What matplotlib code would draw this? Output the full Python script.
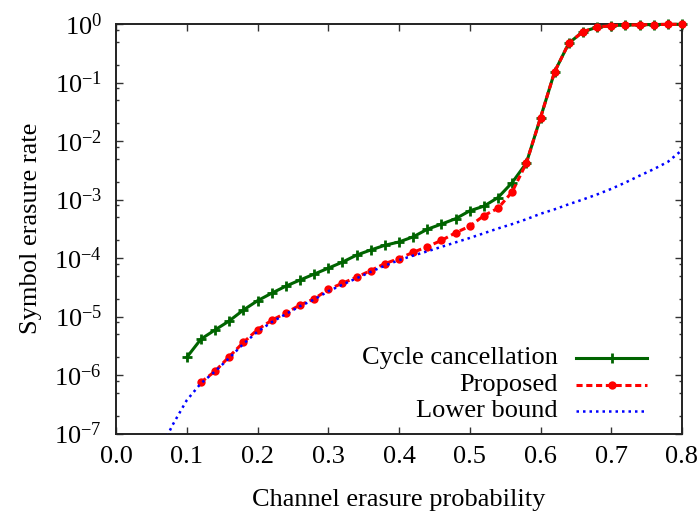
import numpy as np
import matplotlib
matplotlib.use("Agg")
import matplotlib.pyplot as plt
from matplotlib.ticker import LogLocator, FixedLocator, NullFormatter

plt.rcParams['font.family'] = ['Liberation Serif', 'DejaVu Serif']
plt.rcParams['mathtext.fontset'] = 'custom'
plt.rcParams['mathtext.rm'] = 'Liberation Serif'
plt.rcParams['mathtext.it'] = 'Liberation Serif:italic'

# ---- data ----
x_cc = [0.10, 0.12, 0.14, 0.16, 0.18, 0.20, 0.22, 0.24, 0.26, 0.28, 0.30, 0.32,
        0.34, 0.36, 0.38, 0.40, 0.42, 0.44, 0.46, 0.48, 0.50, 0.52, 0.54, 0.56,
        0.58, 0.60, 0.62, 0.64, 0.66, 0.68, 0.70, 0.72, 0.74, 0.76, 0.78, 0.80]
y_cc = [2.0e-6, 4.1e-6, 5.9e-6, 8.4e-6, 1.29e-5, 1.86e-5, 2.5e-5, 3.3e-5, 4.2e-5,
        5.3e-5, 6.7e-5, 8.5e-5, 1.12e-4, 1.37e-4, 1.65e-4, 1.88e-4, 2.3e-4, 3.1e-4,
        3.8e-4, 4.7e-4, 6.4e-4, 7.7e-4, 1.08e-3, 1.95e-3, 4.2e-3, 2.5e-2, 0.153,
        0.47, 0.74, 0.88, 0.94, 0.96, 0.97, 0.98, 0.985, 0.99]

x_prop = [0.12, 0.14, 0.16, 0.18, 0.20, 0.22, 0.24, 0.26, 0.28, 0.30, 0.32, 0.34,
          0.36, 0.38, 0.40, 0.42, 0.44, 0.46, 0.48, 0.50, 0.52, 0.54, 0.56, 0.58,
          0.60, 0.62, 0.64, 0.66, 0.68, 0.70, 0.72, 0.74, 0.76, 0.78, 0.80]
y_prop = [7.5e-7, 1.16e-6, 2.06e-6, 3.6e-6, 5.96e-6, 8.6e-6, 1.15e-5, 1.57e-5,
          2.0e-5, 2.9e-5, 3.7e-5, 4.7e-5, 6.1e-5, 8.0e-5, 9.8e-5, 1.25e-4, 1.56e-4,
          2.0e-4, 2.7e-4, 3.5e-4, 5.3e-4, 7.1e-4, 1.35e-3, 4.2e-3, 2.5e-2, 0.153,
          0.47, 0.74, 0.88, 0.94, 0.96, 0.97, 0.98, 0.985, 0.99]

x_lb = [0.06, 0.08, 0.10, 0.12, 0.14, 0.16, 0.18, 0.20, 0.22, 0.24, 0.26, 0.28,
        0.30, 0.32, 0.34, 0.36, 0.38, 0.40, 0.42, 0.44, 0.46, 0.48, 0.50, 0.52,
        0.54, 0.56, 0.58, 0.60, 0.62, 0.64, 0.66, 0.68, 0.70, 0.72, 0.74, 0.76,
        0.78, 0.80]
y_lb = [4.5e-8, 1.4e-7, 3.7e-7, 7.2e-7, 1.15e-6, 1.95e-6, 3.4e-6, 5.5e-6, 8.0e-6,
        1.1e-5, 1.5e-5, 1.95e-5, 2.7e-5, 3.5e-5, 4.5e-5, 5.8e-5, 7.4e-5, 9.2e-5,
        1.1e-4, 1.3e-4, 1.55e-4, 1.85e-4, 2.2e-4, 2.65e-4, 3.2e-4, 3.8e-4, 4.6e-4,
        5.7e-4, 6.8e-4, 8.3e-4, 1.0e-3, 1.22e-3, 1.52e-3, 1.95e-3, 2.55e-3, 3.3e-3,
        4.4e-3, 7.0e-3]

x_ticks = [0.0, 0.1, 0.2, 0.3, 0.4, 0.5, 0.6, 0.7, 0.8]
x_tick_labels = ["0.0", "0.1", "0.2", "0.3", "0.4", "0.5", "0.6", "0.7", "0.8"]
y_exps = [0, -1, -2, -3, -4, -5, -6, -7]
labels = ["Cycle cancellation", "Proposed", "Lower bound"]

GREEN = "#006400"
RED = "#ff0000"
BLUE = "#0000ff"
FS = 19

fig = plt.figure(figsize=(6.99, 5.16), dpi=100)
ax = fig.add_axes([116/699, 1 - 433.5/516, (682-116)/699, (433.5-24)/516])

st_cc = dict(color=GREEN, lw=2.2, marker='+', ms=6.5, mew=2.0)
st_prop = dict(color=RED, lw=2.2, ls=(0, (2.0, 1.2)), marker='o', ms=6, mew=0)
st_lb = dict(color=BLUE, lw=1.8, ls=(0, (1.0, 1.6)))

ax.plot(x_cc, y_cc, zorder=3, clip_on=False, **st_cc)
ax.plot(x_prop, y_prop, zorder=4, clip_on=False, **st_prop)
ax.plot(x_lb, y_lb, zorder=5, **st_lb)

ax.set_yscale('log')
ax.set_xlim(0.0, 0.8)
ax.set_ylim(1e-7, 1.0)

ax.xaxis.set_major_locator(FixedLocator(x_ticks))
ax.set_xticklabels(x_tick_labels)
ax.yaxis.set_major_locator(FixedLocator([10.0**e for e in y_exps]))
ax.set_yticklabels([r'$\mathregular{10^{%d}}$' % e for e in y_exps])
ax.yaxis.set_minor_locator(LogLocator(base=10, subs=(2.0, 5.0, 8.0), numticks=20))
ax.yaxis.set_minor_formatter(NullFormatter())

ax.tick_params(axis='both', which='major', direction='in', length=5, width=1.0,
               top=True, right=True, labelsize=FS, color='#333333')
ax.tick_params(axis='y', which='major', pad=10)
ax.tick_params(axis='x', which='major', pad=9)
ax.tick_params(axis='y', which='minor', direction='in', length=2.5, width=1.0,
               left=True, right=True, color='#333333')
for s in ax.spines.values():
    s.set_linewidth(1.4)
    s.set_color('#222222')

ax.set_xlabel("Channel erasure probability", fontsize=FS, labelpad=15)
ax.set_ylabel("Symbol erasure rate", fontsize=FS, labelpad=9)

# legend drawn manually (right aligned text, samples at right)
rows_y = [1 - (358-24)/409.5, 1 - (385-24)/409.5, 1 - (411-24)/409.5]
tx = (558-116)/566
lx0 = (576-116)/566
lx1 = (647-116)/566
for lab, yy, st in zip(labels, rows_y, [st_cc, st_prop, st_lb]):
    ax.text(tx, yy, lab, transform=ax.transAxes, ha='right', va='center', fontsize=FS)
    ax.plot([lx0, (lx0+lx1)/2, lx1], [yy, yy, yy], transform=ax.transAxes,
            markevery=[1], clip_on=False, **st)

fig.savefig("out.png", dpi=100)
